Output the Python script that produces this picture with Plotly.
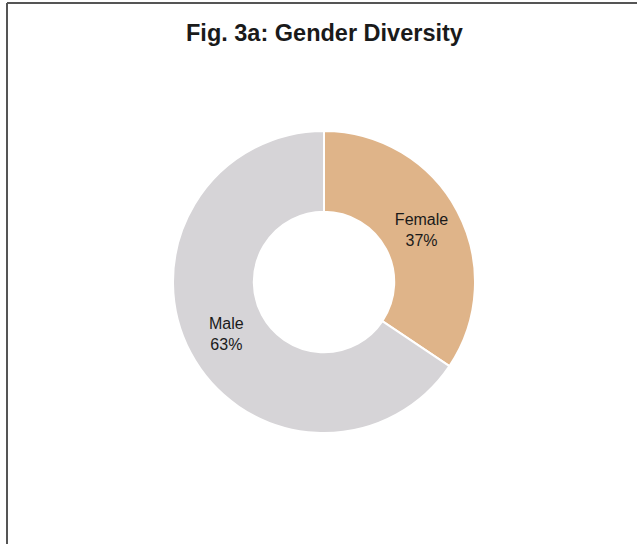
import plotly.graph_objects as go

# Data
categories = ["Female", "Male"]
shares = [34.4, 65.6]          # slice sizes as drawn
pct_labels = ["37%", "63%"]    # percentages printed on the chart
title_text = "Fig. 3a: Gender Diversity"

W, H = 637, 544
cx, cy, r = 324, 282, 151

fig = go.Figure(go.Pie(
    labels=categories,
    values=shares,
    text=pct_labels,
    texttemplate="%{label}<br>%{text}",
    textposition="inside",
    insidetextorientation="horizontal",
    textfont=dict(family="Liberation Sans, Arial, sans-serif", size=16, color="#1a1a1a"),
    hole=0.465,
    sort=False,
    direction="clockwise",
    rotation=0,
    marker=dict(colors=["#DFB489", "#D6D4D7"], line=dict(color="white", width=2)),
    domain=dict(x=[(cx - r) / W, (cx + r) / W], y=[(H - cy - r) / H, (H - cy + r) / H]),
    showlegend=False,
    hoverinfo="label+percent",
))

fig.add_annotation(
    text="<b>" + title_text + "</b>",
    x=324 / W, y=1 - 33 / H, xref="paper", yref="paper",
    xanchor="center", yanchor="middle", showarrow=False,
    font=dict(family="Liberation Sans, Arial, sans-serif", size=23.5, color="#1a1a1a"),
)

# frame (top and left edges visible in the reference)
fig.add_shape(type="line", xref="paper", yref="paper",
              x0=7 / W, x1=1.02, y0=1 - 3 / H, y1=1 - 3 / H,
              line=dict(color="#555555", width=2))
fig.add_shape(type="line", xref="paper", yref="paper",
              x0=7 / W, x1=7 / W, y0=-0.02, y1=1 - 3 / H,
              line=dict(color="#555555", width=2))

fig.update_layout(
    width=W, height=H,
    margin=dict(l=0, r=0, t=0, b=0),
    paper_bgcolor="white",
    plot_bgcolor="white",
)

fig.write_html(
    "out.html",
    config={"displayModeBar": False},
    post_script="document.body.style.margin='0';document.body.style.overflow='hidden';",
)
